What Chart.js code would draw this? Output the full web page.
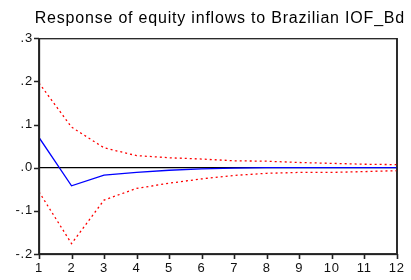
<!DOCTYPE html>
<html><head><meta charset="utf-8">
<script src="https://cdn.jsdelivr.net/npm/chart.js@4/dist/chart.umd.min.js"></script>
<style>html,body{margin:0;padding:0;background:#fff}#wrap{width:411px;height:280px}</style>
</head><body><div id="wrap"><canvas id="c"></canvas></div>
<script>
const periods = [1,2,3,4,5,6,7,8,9,10,11,12];
const response = [0.070,-0.042,-0.017,-0.011,-0.006,-0.003,-0.001,0,0,0,0,0];
const upperBand = [0.196,0.094,0.046,0.028,0.023,0.020,0.016,0.015,0.012,0.010,0.008,0.007];
const lowerBand = [-0.056,-0.176,-0.075,-0.048,-0.036,-0.026,-0.018,-0.013,-0.011,-0.011,-0.009,-0.007];
const yTicks = [-0.2,-0.1,0,0.1,0.2,0.3];
const titleText = 'Response of equity inflows to Brazilian IOF_Bd';

function fmt(v){
  if (Math.abs(v) < 1e-9) return '.0';
  const s = (Math.round(v*10)/10).toFixed(1);
  return s.replace('0.', '.');
}
const toXY = arr => arr.map((v,i)=>({x:periods[i], y:v}));

const boxPlugin = {
  id:'box',
  afterDraw(chart){
    const {ctx, chartArea:a, scales} = chart;
    ctx.save();
    ctx.letterSpacing = '0px';
    ctx.strokeStyle = '#222';
    ctx.lineWidth = 1.3;
    ctx.strokeRect(a.left+0.5, a.top+0.5, a.right-a.left, a.bottom-a.top);
    ctx.beginPath();
    scales.y.ticks.forEach(t => {
      const py = Math.round(scales.y.getPixelForValue(t.value)) + 0.5;
      ctx.moveTo(a.left - 5, py); ctx.lineTo(a.left, py);
    });
    scales.x.ticks.forEach(t => {
      const px = Math.round(scales.x.getPixelForValue(t.value)) + 0.5;
      ctx.moveTo(px, a.bottom); ctx.lineTo(px, a.bottom + 5);
    });
    ctx.lineWidth = 1.6;
    ctx.stroke();
    ctx.restore();
  }
};
const spacingPlugin = {
  id:'spacing',
  beforeDraw(chart){ chart.ctx.letterSpacing = '0.8px'; }
};

const FONT = 'Arial, "Liberation Sans", sans-serif';

new Chart(document.getElementById('c'), {
  type:'line',
  data:{datasets:[
    {data:toXY(upperBand), borderColor:'#ff0000', borderWidth:1.3, borderDash:[2,3], pointRadius:0, tension:0},
    {data:toXY(lowerBand), borderColor:'#ff0000', borderWidth:1.3, borderDash:[2,3], pointRadius:0, tension:0},
    {data:toXY(response), borderColor:'#0000ff', borderWidth:1.3, pointRadius:0, tension:0}
  ]},
  options:{
    responsive:true, maintainAspectRatio:false, animation:false,
    layout:{padding:{left:0,right:6,top:0,bottom:0}},
    plugins:{
      legend:{display:false}, tooltip:{enabled:false},
      title:{display:true, align:'end', text:titleText, color:'#000', font:{family:FONT, size:16, weight:'normal', lineHeight:1.2}, padding:{top:9,bottom:10}}
    },
    scales:{
      x:{type:'linear', min:1, max:12,
        afterBuildTicks: s => { s.ticks = periods.map(v=>({value:v})); },
        afterFit: s => { s.height = 26; },
        ticks:{color:'#111', font:{family:FONT, size:13, weight:'500'}, padding:7, maxRotation:0, autoSkip:false},
        grid:{drawOnChartArea:false, drawTicks:false},
        border:{color:'#333', width:1.3}
      },
      y:{min:-0.2, max:0.3,
        afterBuildTicks: s => { s.ticks = yTicks.map(v=>({value:v})); },
        afterFit: s => { s.width = 39; },
        ticks:{color:'#111', font:{family:FONT, size:13, weight:'500'}, padding:6, callback:v=>fmt(v)},
        grid:{drawOnChartArea:true, drawTicks:false,
          color: c => (c.tick && Math.abs(c.tick.value) < 1e-9) ? '#000' : 'rgba(0,0,0,0)', lineWidth: 1.3},
        border:{color:'#333', width:1.3}
      },
      yRight:{position:'right', min:-0.2, max:0.3, display:true,
        afterFit: s => { s.width = 8; },
        ticks:{display:false}, grid:{display:false}, border:{color:'#333', width:1.3}
      }
    }
  },
  plugins:[spacingPlugin, boxPlugin]
});
</script></body></html>
